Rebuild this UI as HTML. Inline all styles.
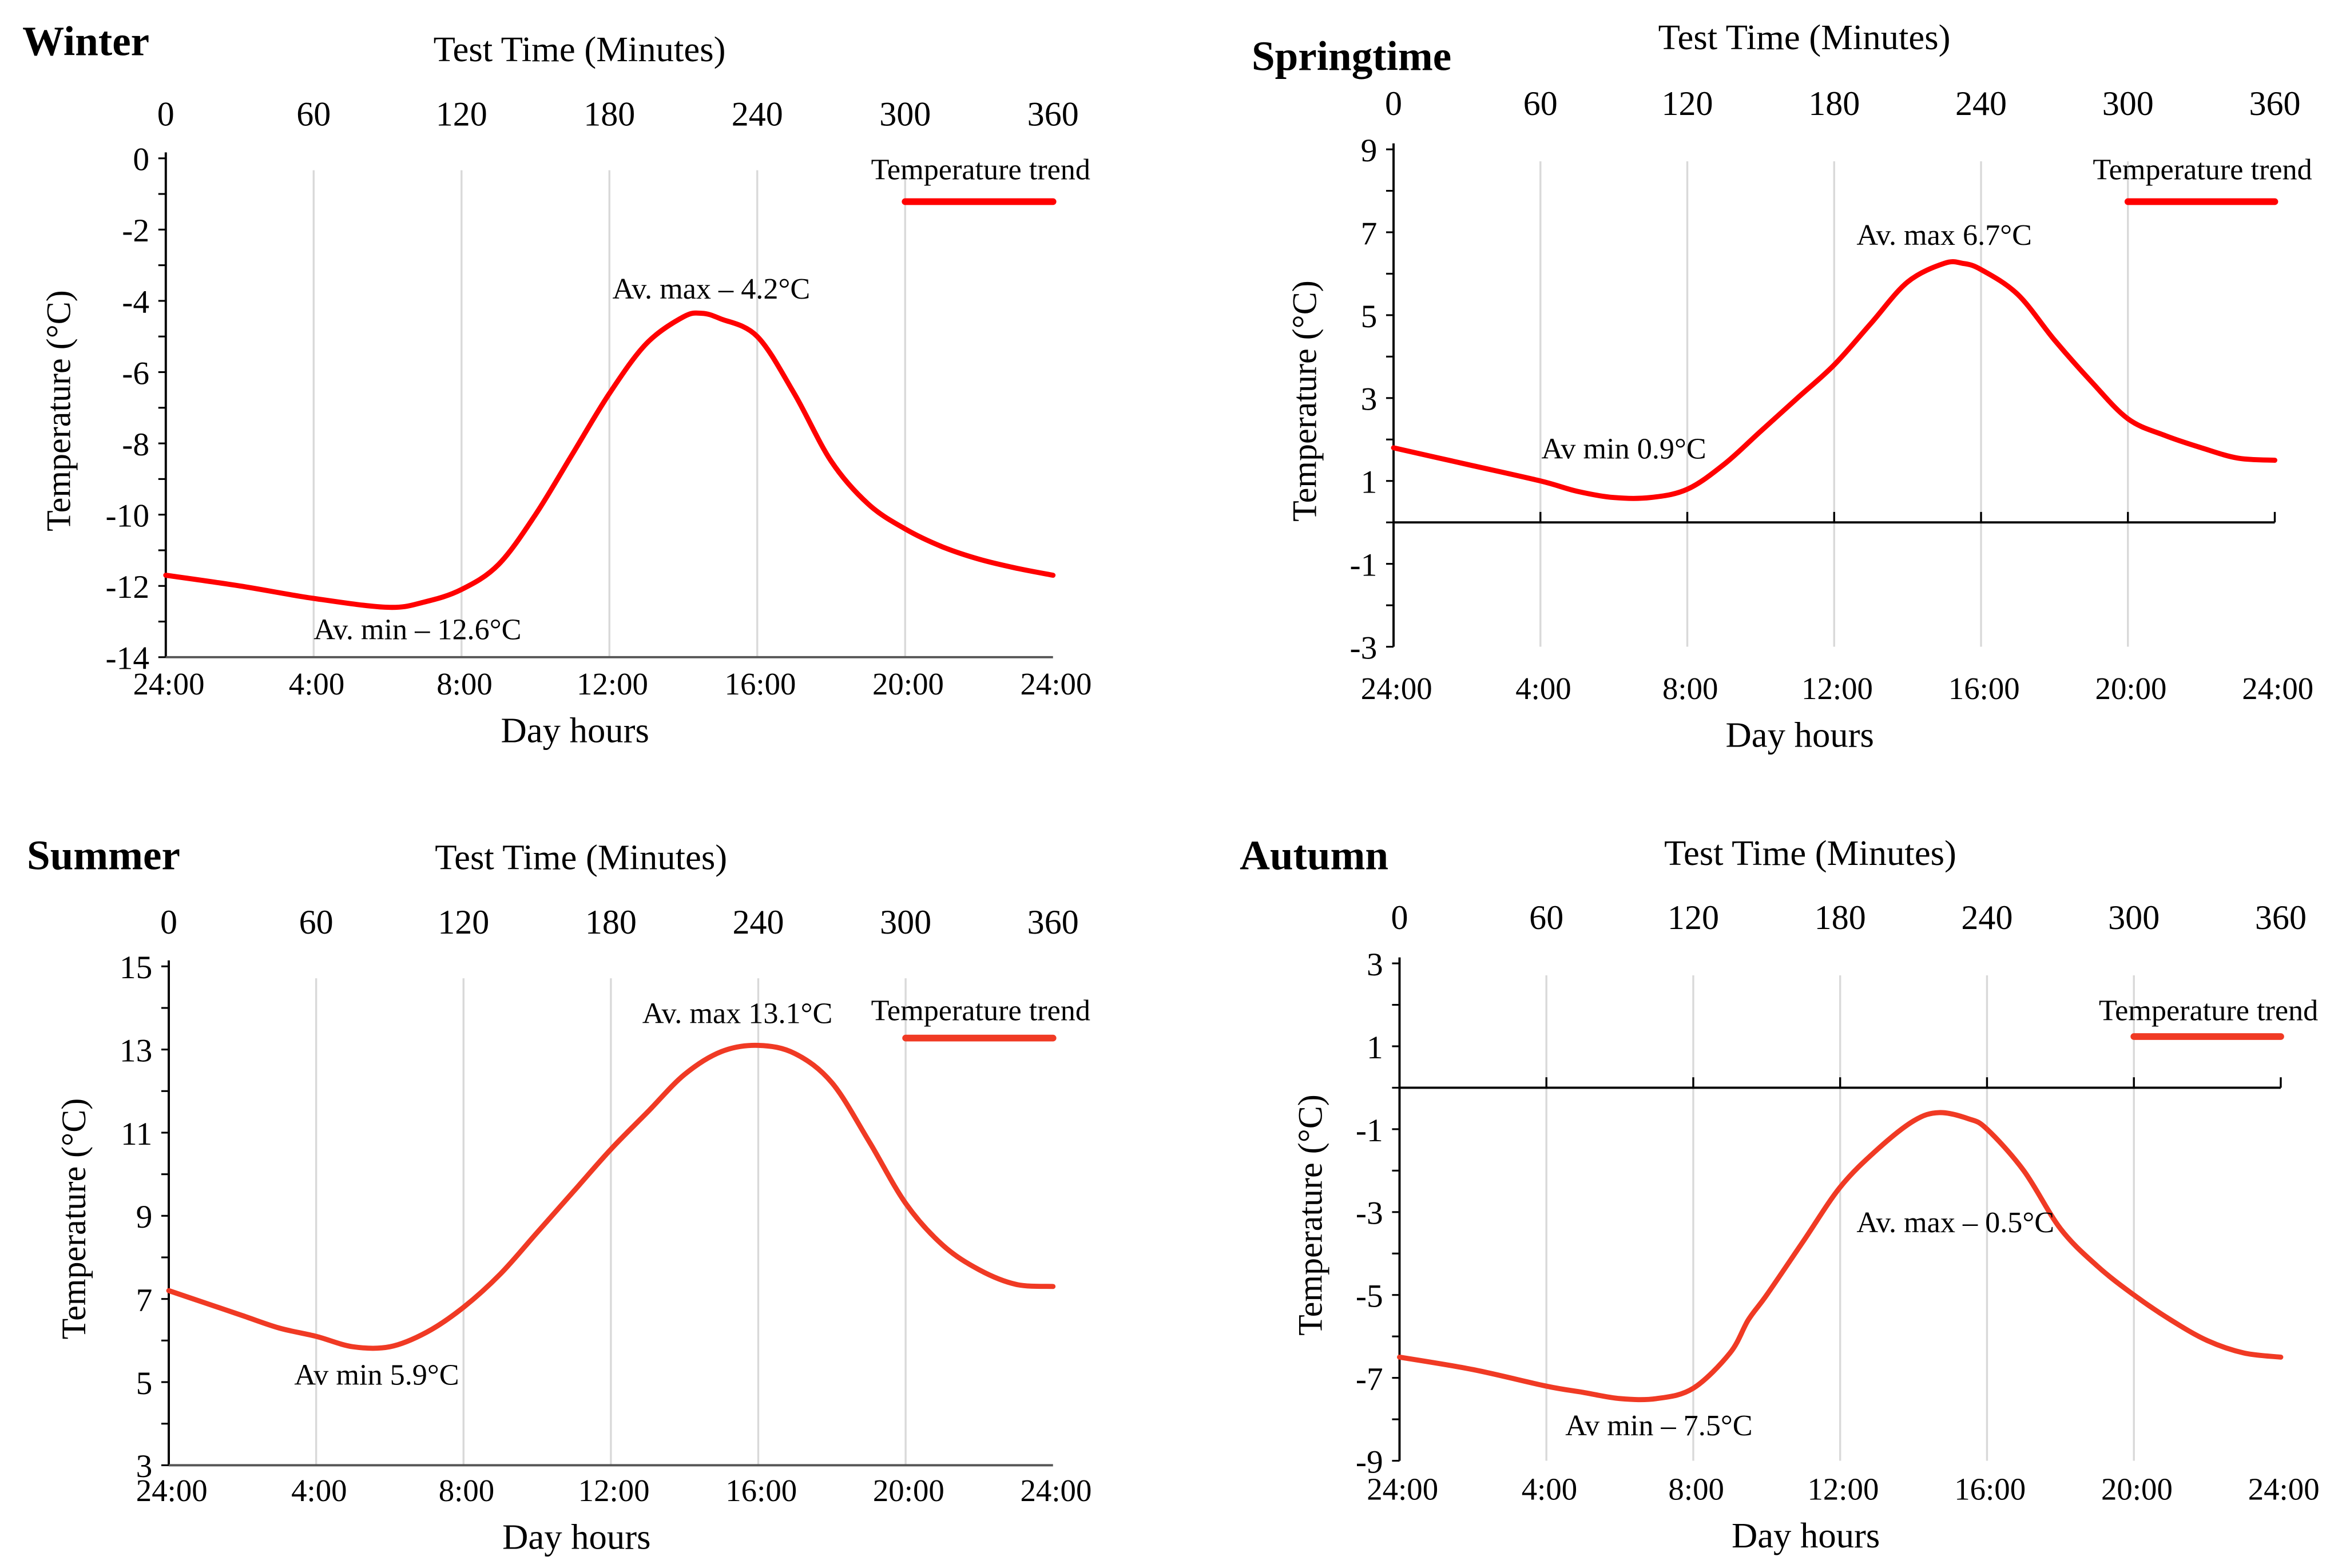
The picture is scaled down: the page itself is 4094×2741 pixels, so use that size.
<!DOCTYPE html>
<html><head><meta charset="utf-8"><style>
html,body{margin:0;padding:0;background:#fff;}
svg{display:block;font-family:"Liberation Serif",serif;}
</style></head><body>
<svg id="chart" width="4094" height="2741" viewBox="0 0 1568 1049.8" xmlns="http://www.w3.org/2000/svg"></svg>
<script>
const hourTickLabels = ["24:00","4:00","8:00","12:00","16:00","20:00","24:00"];
const minuteTickLabels = ["0","60","120","180","240","300","360"];

const winterHours = [0,2,4,6,7,8,9,10,11,12,13,14,14.5,15,16,17,18,19,20,21,22,23,24];
const winterTemps = [-11.7,-12.0,-12.35,-12.6,-12.45,-12.1,-11.4,-10.0,-8.3,-6.6,-5.2,-4.45,-4.35,-4.5,-5.0,-6.6,-8.5,-9.7,-10.4,-10.9,-11.25,-11.5,-11.7];
const winterYTicks = [0,-2,-4,-6,-8,-10,-12,-14];

const springHours = [0,2,4,5,6,7,8,9,10,11,12,13,14,15,15.5,16,17,18,19,20,21,22,23,24];
const springTemps = [1.8,1.4,1.0,0.75,0.6,0.6,0.8,1.4,2.2,3.0,3.8,4.8,5.8,6.25,6.25,6.1,5.5,4.4,3.4,2.5,2.1,1.8,1.55,1.5];
const springYTicks = [9,7,5,3,1,-1,-3];

const summerHours = [0,1,2,3,4,5,6,7,8,9,10,11,12,13,14,15,16,17,18,19,20,21,22,23,24];
const summerTemps = [7.2,6.9,6.6,6.3,6.1,5.85,5.85,6.2,6.8,7.6,8.6,9.6,10.6,11.5,12.4,12.95,13.1,12.9,12.2,10.8,9.3,8.3,7.7,7.35,7.3];
const summerYTicks = [15,13,11,9,7,5,3];

const autumnHours = [0,2,4,5,6,7,8,9,9.5,10,11,12,13,14,14.7,15.5,16,17,18,19,20,21,22,23,24];
const autumnTemps = [-6.5,-6.8,-7.2,-7.35,-7.5,-7.5,-7.25,-6.4,-5.6,-5.0,-3.7,-2.4,-1.5,-0.8,-0.6,-0.75,-1.0,-2.0,-3.4,-4.3,-5.0,-5.6,-6.1,-6.4,-6.5];
const autumnYTicks = [3,1,-1,-3,-5,-7,-9];

const panels = [
 {key:"winter",title:"Winter",tx:15,ty:37,x0:111,x1:705,y0:106,y1:440,vmax:0,vmin:-14,hours:winterHours,temps:winterTemps,yticks:winterYTicks,zero:false,color:"#ff0000",
  topLab:84,topTitle:41,botLab:465,dayY:497,ylabX:47,legY:120,legLineY:135,
  ann:[["Av. max \u2013 4.2°C",410,200],["Av. min \u2013 12.6°C",210,428]]},
 {key:"spring",title:"Springtime",tx:838,ty:47,x0:933,x1:1523,y0:100,y1:433,vmax:9,vmin:-3,hours:springHours,temps:springTemps,yticks:springYTicks,zero:true,color:"#ff0000",
  topLab:77,topTitle:33,botLab:468,dayY:500,ylabX:881,legY:120,legLineY:135,
  ann:[["Av. max 6.7°C",1243,164],["Av min 0.9°C",1032,307]]},
 {key:"summer",title:"Summer",tx:18,ty:582,x0:113,x1:705,y0:647,y1:981,vmax:15,vmin:3,hours:summerHours,temps:summerTemps,yticks:summerYTicks,zero:false,color:"#f03a24",
  topLab:625,topTitle:582,botLab:1005,dayY:1037,ylabX:57,legY:683,legLineY:695,
  ann:[["Av. max 13.1°C",430,685],["Av min 5.9°C",197,927]]},
 {key:"autumn",title:"Autumn",tx:830,ty:582,x0:937,x1:1527,y0:645,y1:978,vmax:3,vmin:-9,hours:autumnHours,temps:autumnTemps,yticks:autumnYTicks,zero:true,color:"#f03a24",
  topLab:622,topTitle:579,botLab:1004,dayY:1036,ylabX:885,legY:683,legLineY:694,
  ann:[["Av. max \u2013 0.5°C",1243,825],["Av min \u2013 7.5°C",1048,961]]}
];

const NS="http://www.w3.org/2000/svg";
const svg=document.getElementById("chart");
function mk(tag,attrs,parent){const e=document.createElementNS(NS,tag);for(const k in attrs)e.setAttribute(k,attrs[k]);(parent||svg).appendChild(e);return e;}
function txt(s,attrs,parent){const e=mk("text",attrs,parent);e.textContent=s;return e;}

panels.forEach(p=>{
  const g=mk("g",{});
  
  
  const xs=h=>p.x0+(h/24)*(p.x1-p.x0);
  const ys=v=>p.y0+(p.vmax-v)/(p.vmax-p.vmin)*(p.y1-p.y0);

  for(let i=1;i<6;i++){
    const gl=mk("line",{x1:xs(i*4),x2:xs(i*4),y1:p.y0+8,y2:p.y1,stroke:"#d9d9d9","stroke-width":1.3},g);
    
    
  }
  const ya=mk("line",{x1:p.x0,x2:p.x0,y1:p.y0-4,y2:p.y1,stroke:"#000","stroke-width":1.5},g);
  
  
  for(let v=p.vmin;v<=p.vmax;v+=1){
    const t=mk("line",{x1:p.x0-5,x2:p.x0,y1:ys(v),y2:ys(v),stroke:"#000","stroke-width":1.2},g);
    
    
  }
  p.yticks.forEach(v=>{
    const t=txt(String(v),{x:p.x0-11,y:ys(v)+8,"font-size":22,"text-anchor":"end"},g);
    
    
  });
  const axY=p.zero?ys(0):p.y1;
  const xa=mk("line",{x1:p.x0,x2:p.x1,y1:axY,y2:axY,stroke:p.zero?"#000":"#555","stroke-width":1.5},g);
  
  
  if(p.zero){
    for(let i=1;i<=6;i++){
      const t=mk("line",{x1:xs(i*4),x2:xs(i*4),y1:axY-7,y2:axY,stroke:"#000","stroke-width":1.3},g);
      
      
    }
  }
  hourTickLabels.forEach((s,i)=>{
    const t=txt(s,{x:xs(i*4)+2,y:p.botLab,"font-size":21,"text-anchor":"middle"},g);
    
    
  });
  minuteTickLabels.forEach((s,i)=>{
    const t=txt(s,{x:xs(i*4),y:p.topLab,"font-size":23,"text-anchor":"middle"},g);
    
    
  });
  const tt=txt("Test Time (Minutes)",{x:(p.x0+p.x1)/2-20,y:p.topTitle,"font-size":24,"text-anchor":"middle"},g);
  
  
  const dh=txt("Day hours",{x:(p.x0+p.x1)/2-23,y:p.dayY,"font-size":24,"text-anchor":"middle"},g);
  
  
  const yl=txt("Temperature (°C)",{x:0,y:0,"font-size":23,"text-anchor":"middle",transform:`translate(${p.ylabX},${(p.y0+p.y1)/2+2}) rotate(-90)`},g);
  
  
  const ti=txt(p.title,{x:p.tx,y:p.ty,"font-size":28,"font-weight":"bold"},g);
  
  

  const pts=p.hours.map((h,i)=>[xs(h),ys(p.temps[i])]);
  let d=`M${pts[0][0]},${pts[0][1]}`;
  for(let i=0;i<pts.length-1;i++){
    const a=pts[i-1]||pts[i],b=pts[i],c=pts[i+1],e=pts[i+2]||c;
    const c1=[b[0]+(c[0]-a[0])/6,b[1]+(c[1]-a[1])/6];
    const c2=[c[0]-(e[0]-b[0])/6,c[1]-(e[1]-b[1])/6];
    d+=` C${c1[0]},${c1[1]} ${c2[0]},${c2[1]} ${c[0]},${c[1]}`;
  }
  const ln=mk("path",{d:d,fill:"none",stroke:p.color,"stroke-width":3.4,"stroke-linecap":"round","stroke-linejoin":"round"},g);
  
  

  const lt=txt("Temperature trend",{x:p.x1+25,y:p.legY,"font-size":20,"text-anchor":"end"},g);
  
  
  const ll=mk("line",{x1:xs(20),x2:p.x1,y1:p.legLineY,y2:p.legLineY,stroke:p.color,"stroke-width":4.5,"stroke-linecap":"round"},g);
  
  

  p.ann.forEach(a=>{
    const t=txt(a[0],{x:a[1],y:a[2],"font-size":20},g);
    
    
  });
});
</script>
</body></html>
